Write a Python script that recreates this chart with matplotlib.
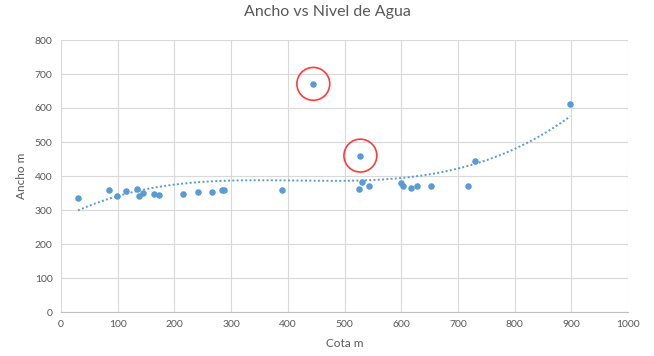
import numpy as np
import matplotlib
matplotlib.use("Agg")
import matplotlib.pyplot as plt

plt.rcParams['font.family'] = ['Lato', 'DejaVu Sans']

# Measurements: elevation (Cota, m) and width (Ancho, m)
cota = [30, 85, 99, 114, 134, 138, 145, 164, 173, 216, 242, 267, 284, 288,
        390, 445, 528, 530, 526, 543, 600, 604, 617, 628, 652, 718, 730, 898]
ancho = [334, 359, 341, 357, 362, 341, 351, 347, 344, 347, 353, 353, 359, 359,
         359, 671, 460, 381, 362, 371, 378, 371, 365, 371, 371, 371, 445, 612]

# Points flagged as outliers
outlier_cota = [445, 528]
outlier_ancho = [671, 460]

x_ticks = list(range(0, 1001, 100))
y_ticks = list(range(0, 801, 100))

trend_degree = 3

blue = '#5B9BD5'
grid_c = '#D9D9D9'
text_c = '#595959'

fig = plt.figure(figsize=(6.54, 3.56), dpi=100)
ax = fig.add_axes([61/654, 44/356, 567/654, 272/356])

ax.set_xlim(0, 1000)
ax.set_ylim(0, 800)
ax.set_xticks(x_ticks)
ax.set_yticks(y_ticks)
ax.grid(True, color=grid_c, linewidth=0.8)
ax.set_axisbelow(True)
for s in ['top', 'right', 'left']:
    ax.spines[s].set_visible(False)
ax.spines['bottom'].set_color('#BFBFBF')
ax.tick_params(length=0, labelsize=7.5, labelcolor=text_c, pad=6)

# Polynomial trend line over the data range
xs = np.array(cota, dtype=float)
ys = np.array(ancho, dtype=float)
coef = np.polyfit(xs, ys, trend_degree)
xf = np.linspace(xs.min(), xs.max(), 300)
ax.plot(xf, np.polyval(coef, xf), linestyle=(0, (1, 1.2)), color=blue,
        linewidth=1.4, zorder=2)

ax.scatter(cota, ancho, s=22, color=blue, zorder=3, linewidths=0)
ax.scatter(outlier_cota, outlier_ancho, s=560, facecolors='none',
           edgecolors='#FF3B3B', linewidths=1.2, zorder=4)

ax.set_xlabel('Cota m', fontsize=8.5, color=text_c, labelpad=6)
ax.set_ylabel('Ancho m', fontsize=8.5, color=text_c, labelpad=6)
fig.suptitle('Ancho vs Nivel de Agua', fontsize=11.5, color=text_c, y=0.985)

fig.savefig('out.png', dpi=100)
